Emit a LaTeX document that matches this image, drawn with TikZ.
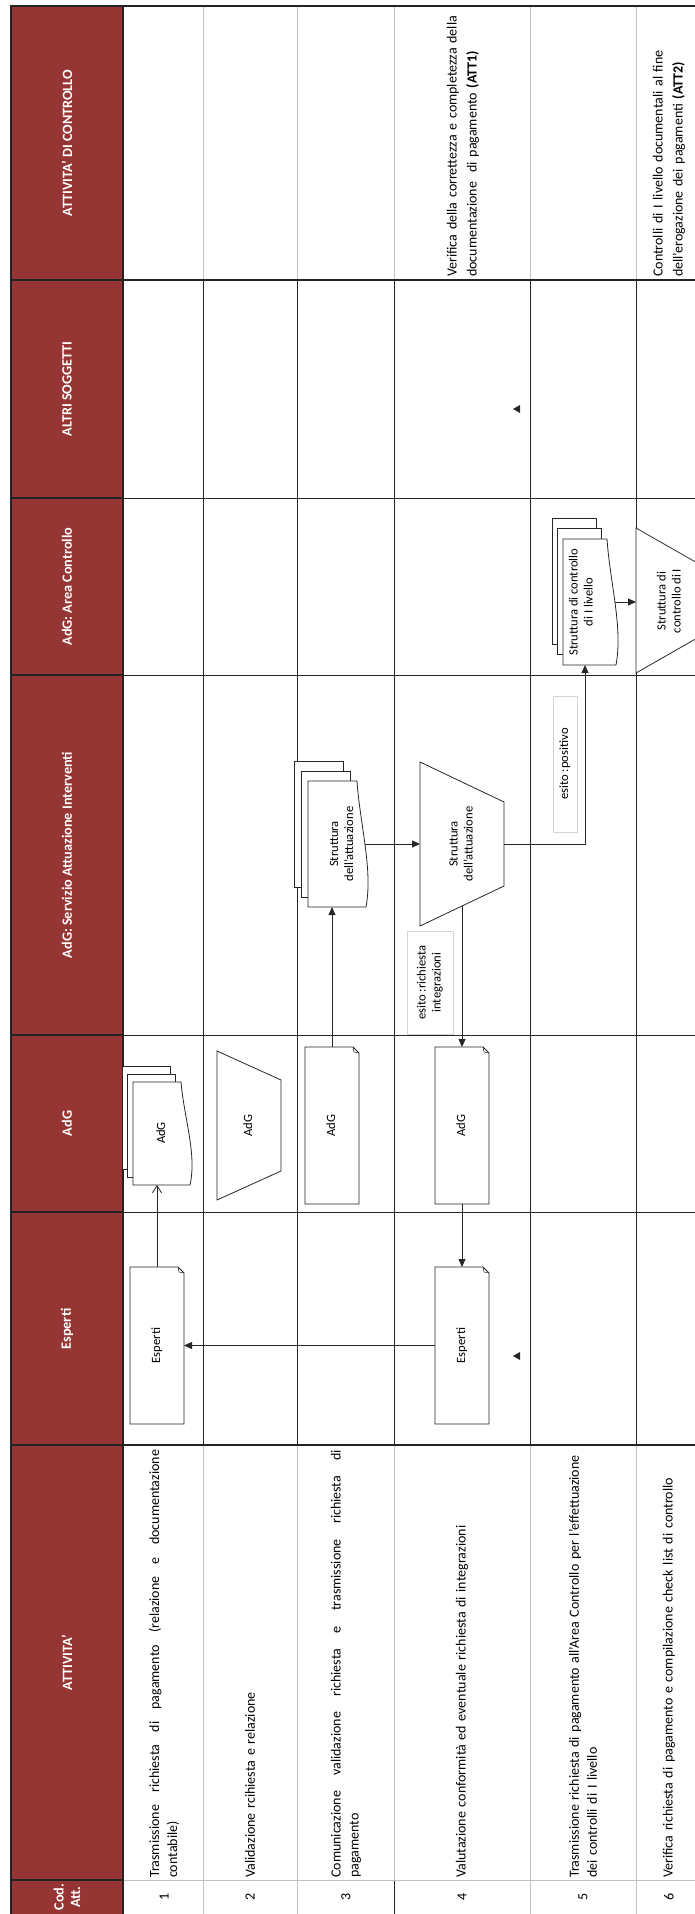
\documentclass[tikz,border=0pt]{standalone}
\usepackage{fontspec}
\setmainfont{Carlito}
\usepackage{graphicx}
\usetikzlibrary{arrows.meta, positioning, calc}
\definecolor{hdred}{RGB}{150,54,52}
\definecolor{hdline}{RGB}{35,35,35}
\definecolor{gridgray}{RGB}{192,192,192}
\definecolor{boxgray}{RGB}{212,212,212}
\pgfdeclarelayer{bg}
\pgfsetlayers{bg,main}
\newcommand{\vtext}[1]{\rotatebox{90}{\begin{tabular}{@{}c@{}}#1\end{tabular}}}
% document with folded corner
\newcommand{\docshape}[1]{%
  \draw[shapeline, fill=white] (#1.north west) -- ([xshift=-6pt]#1.north east) -- ([yshift=-6pt]#1.north east) -- (#1.south east) -- (#1.south west) -- cycle;
  \draw[shapeline, line width=0.5pt] ([xshift=-6pt]#1.north east) -- ([xshift=-5pt, yshift=-5pt]#1.north east) -- ([yshift=-6pt]#1.north east);}
% stack of documents, wavy edge on the right
\newcommand{\multidoc}[3]{%
  \draw[shapeline, fill=white] ([shift={(2*#2,2*#3)}]#1.north west) rectangle ([shift={(2*#2,2*#3)}]#1.south east);
  \draw[shapeline, fill=white] ([shift={(#2,#3)}]#1.north west) rectangle ([shift={(#2,#3)}]#1.south east);
  \draw[shapeline, fill=white] (#1.north west) -- (#1.north east)
    .. controls ($(#1.north east)!0.35!(#1.south east)+(3,0)$) and ($(#1.north east)!0.7!(#1.south east)+(16,0)$) .. ([xshift=9pt]#1.south east)
    -- (#1.south west) -- cycle;}
% manual operation, long side on the left
\newcommand{\trapshape}[2]{%
  \draw[shapeline, fill=white] (#1.north west) -- ([yshift=-#2pt]#1.north east) -- ([yshift=#2pt]#1.south east) -- (#1.south west) -- cycle;}

\begin{document}
\begin{tikzpicture}[x=1pt, y=-1pt,
    shapeline/.style={draw=black!85, line width=0.8pt},
    box/.style={inner sep=0pt, outer sep=0pt, font=\fontsize{12.6}{15}\selectfont},
    tag/.style={box, draw=boxgray, line width=0.9pt},
    hdtext/.style={text=white, font=\fontsize{14.2}{16.5}\selectfont\bfseries, rotate=90, align=center},
    acttext/.style={font=\fontsize{14}{18}\selectfont, rotate=90, anchor=west, inner sep=0pt, text width=428pt, align=left},
    ctrltext/.style={font=\fontsize{14}{20}\selectfont, rotate=90, anchor=west, inner sep=0pt, text width=275pt, align=left},
    numtext/.style={font=\fontsize{14}{18}\selectfont, rotate=90},
    arr/.style={-{Triangle[length=8pt, width=7pt]}, line width=0.8pt, black!85},
    openarr/.style={-{Straight Barb[length=7pt, width=9pt]}, line width=0.8pt, black!85},
]
\useasboundingbox (0,0) rectangle (695,1914);

% table grid
\begin{pgfonlayer}{bg}
  \fill[hdred] (11,6) rectangle (123,1914);
  \foreach \x in {203,297,394,530,636} {
    \draw[gridgray, line width=1pt] (\x,6) -- (\x,280);
    \draw[black!85, line width=0.8pt] (\x,280) -- (\x,1445);
    \draw[gridgray, line width=1pt] (\x,1445) -- (\x,1914);
  }
  \draw[black!85, line width=0.8pt] (394,1880) -- (394,1914);
  \foreach \y in {498,675,1035,1212} \draw[black!85, line width=0.8pt] (123,\y) -- (695,\y);
  \draw[gridgray, line width=1pt] (123,1880) -- (695,1880);
  \foreach \y in {6,280,1445} \draw[hdline, line width=1.6pt] (123,\y) -- (695,\y);
  \foreach \y in {280,498,675,1035,1212,1445,1880} \draw[hdline, line width=1.6pt] (11,\y) -- (123,\y);
  \draw[hdline, line width=1.6pt] (11,1914) -- (11,6) -- (123,6) -- (123,1914);
\end{pgfonlayer}

% lane headers
\node[hdtext] (hCtrl) at (67,143) {ATTIVITA' DI CONTROLLO};
\node[hdtext] (hAltri) at (67,389) {ALTRI SOGGETTI};
\node[hdtext] (hArea) at (67,586.5) {AdG: Area Controllo};
\node[hdtext] (hServ) at (67,855) {AdG: Servizio Attuazione Interventi};
\node[hdtext] (hAdg) at (67,1123.5) {AdG};
\node[hdtext] (hEsp) at (67,1329) {Esperti};
\node[hdtext] (hAtt) at (67,1662.5) {ATTIVITA'};
\node[hdtext] (hCod) at (67,1897) {Cod.\\Att.};

% activities
\node[acttext, align=justify] (t1) at (164,1878) {Trasmissione richiesta di pagamento (relazione e documentazione\linebreak contabile)};
\node[acttext] (t2) at (250,1878) {Validazione rcihiesta e relazione};
\node[acttext, align=justify] (t3) at (346,1878) {Comunicazione validazione richiesta e trasmissione richiesta di\linebreak pagamento};
\node[acttext] (t4) at (462,1878) {Valutazione conformità ed eventuale richiesta di integrazioni};
\node[acttext, text width=445pt] (t5) at (583,1878) {Trasmissione richiesta di pagamento all'Area Controllo per l'effettuazione\\dei controlli di I livello};
\node[acttext] (t6) at (669,1878) {Verifica richiesta di pagamento e compilazione check list di controllo};
\foreach \n/\x in {1/164,2/250,3/346,4/462,5/583,6/669}
  \node[numtext] (n\n) at (\x,1897) {\n};

% control activities
\node[ctrltext] (c4) at (463,277) {Verifica della correttezza e completezza della\\documentazione\ \ di pagamento \textbf{(ATT1)}};
\node[ctrltext] (c6) at (669,277) {Controlli di I livello documentali al fine\\dell'erogazione dei pagamenti \textbf{(ATT2)}};

% flow shapes
\node[box, minimum width=54pt, minimum height=157pt] (espA) at (157,1345.5) {\vtext{Esperti}};
\node[box, minimum width=48pt, minimum height=103pt] (adgA) at (157,1133.5) {};
\node[box] (adgAt) at (162,1133) {\vtext{AdG}};
\node[box, minimum width=64pt, minimum height=149pt] (adgB) at (249,1125.5) {\vtext{AdG}};
\node[box, minimum width=54pt, minimum height=157pt] (adgC) at (332,1125.5) {\vtext{AdG}};
\node[box, minimum width=49pt, minimum height=126pt] (saiA) at (332.5,844) {};
\node[box] (saiAt) at (342.5,844) {\vtext{Struttura\\dell'attuazione}};
\node[box, minimum width=84pt, minimum height=164pt] (saiB) at (462,844) {\vtext{Struttura\\dell'attuazione}};
\node[tag, minimum width=46pt, minimum height=103pt] (esito1) at (430,982.5) {\vtext{esito :richiesta\\integrazioni}};
\node[box, minimum width=54pt, minimum height=157pt] (adgD) at (462,1125.5) {\vtext{AdG}};
\node[box, minimum width=54pt, minimum height=157pt] (espD) at (462,1345.5) {\vtext{Esperti}};
\node[tag, minimum width=24pt, minimum height=136pt] (esito2) at (565,764) {\vtext{esito :positivo}};
\node[box, minimum width=44pt, minimum height=126pt] (acA) at (585,602) {};
\node[box] (acAt) at (582,602) {\vtext{Struttura di controllo\\di I livello}};
\node[box, minimum width=84pt, minimum height=145pt] (acB) at (678,600.5) {};
\node[box] (acBt) at (670,601) {\vtext{Struttura di\\controllo di I}};

\begin{pgfonlayer}{bg}
  \docshape{espA} \docshape{espD} \docshape{adgC} \docshape{adgD}
  \multidoc{adgA}{-5.5}{-8}
  \multidoc{saiA}{-7}{-10}
  \multidoc{acA}{-5.5}{-10.5}
  \trapshape{adgB}{29}
  \trapshape{saiB}{40}
  \trapshape{acB}{48}
\end{pgfonlayer}

% connectors
\draw[openarr] (espA.north) -- (espA.north |- adgA.south);
\draw[arr] (espD.west) -- (espA.east);
\draw[arr] (adgC.north) -- (adgC.north |- saiA.south);
\draw[arr] ([xshift=8pt]saiA.east) -- (saiB.west);
\draw[arr] ($(saiB.south west)!0.5!([yshift=40pt]saiB.south east)$) -- (adgD.north);
\draw[arr] (adgD.south) -- (espD.north);
\draw[arr] (saiB.east) -| (acA.south);
\draw[arr] ([xshift=8pt]acA.east) -- (acA.east -| acB.west);

% stray marks
\fill[black!85] (513,1356) -- (520,1352) -- (520,1360) -- cycle;
\fill[black!85] (513,409) -- (520,405) -- (520,413) -- cycle;
\end{tikzpicture}
\end{document}
